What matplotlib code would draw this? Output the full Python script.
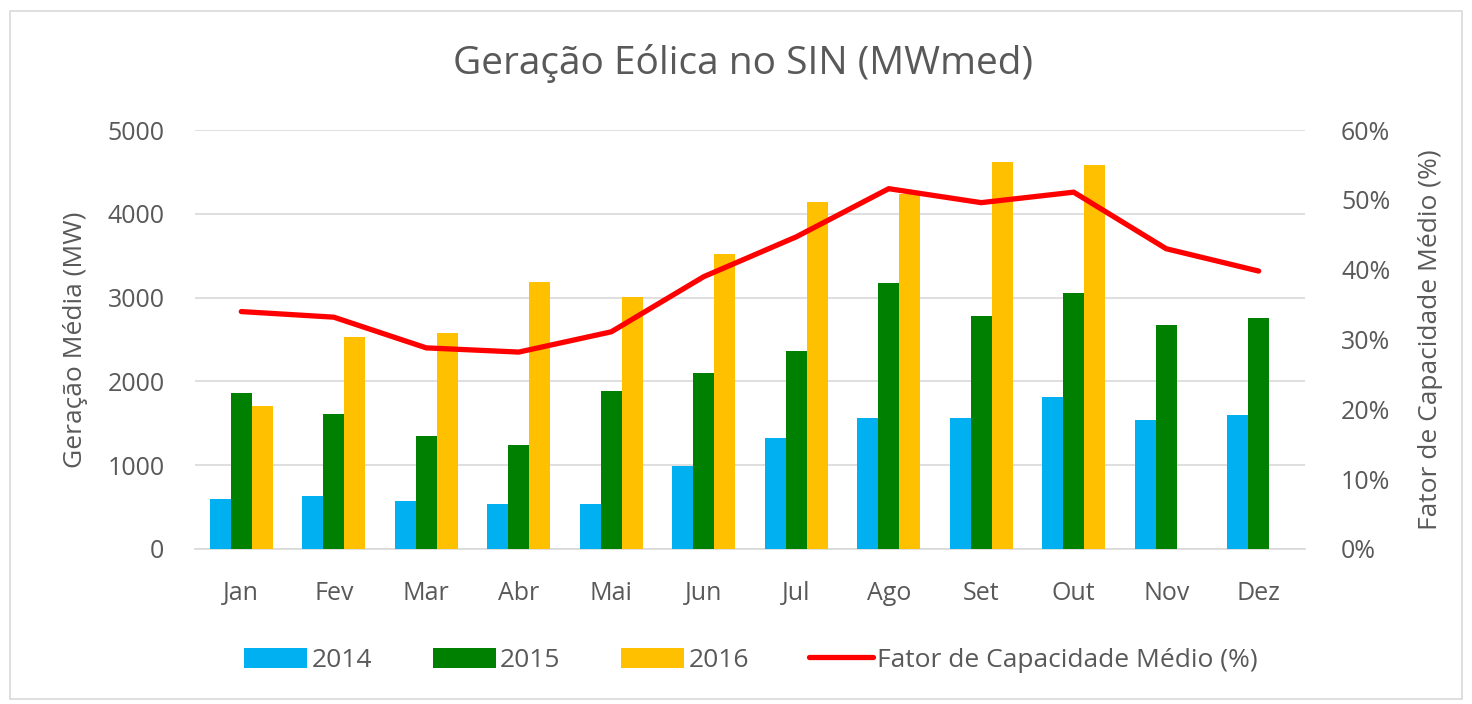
import matplotlib
matplotlib.use("Agg")
import matplotlib.pyplot as plt
import numpy as np
from matplotlib.ticker import FuncFormatter
from matplotlib.patches import Rectangle

months = ["Jan", "Fev", "Mar", "Abr", "Mai", "Jun", "Jul", "Ago", "Set", "Out", "Nov", "Dez"]
g2014 = [600, 630, 570, 540, 540, 990, 1330, 1560, 1560, 1810, 1540, 1600]
g2015 = [1860, 1610, 1350, 1240, 1890, 2100, 2360, 3180, 2780, 3050, 2670, 2760]
g2016 = [1710, 2530, 2580, 3190, 3010, 3520, 4140, 4240, 4620, 4580, np.nan, np.nan]
fator = [34.0, 33.2, 28.8, 28.2, 31.1, 39.0, 44.7, 51.6, 49.6, 51.1, 43.0, 39.8]

plt.rcParams['font.family'] = ['Open Sans', 'DejaVu Sans']
txt = "#595959"

fig = plt.figure(figsize=(14.72, 7.04), dpi=100)
fig.patches.append(Rectangle((0.007, 0.007), 0.986, 0.978, transform=fig.transFigure,
                             fill=False, edgecolor="#d9d9d9", linewidth=1.2))
ax = fig.add_axes([0.1325, 0.2202, 0.754, 0.5951])
ax2 = ax.twinx()

x = np.arange(len(months))
w = 0.227
ax.bar(x - w, g2014, w, color="#00b0f0", label="2014", zorder=3)
ax.bar(x, g2015, w, color="#008000", label="2015", zorder=3)
ax.bar(x + w, g2016, w, color="#ffc000", label="2016", zorder=3)
ax2.plot(x, fator, color="#ff0000", linewidth=3.8, solid_capstyle="round",
         label="Fator de Capacidade Médio (%)", zorder=4)

ax.set_xlim(-0.5, 11.5)
ax.set_ylim(0, 5000)
ax.set_yticks(range(0, 5001, 1000))
ax2.set_ylim(0, 60)
ax2.set_yticks(range(0, 61, 10))
ax2.yaxis.set_major_formatter(FuncFormatter(lambda v, p: f"{int(v)}%"))

ax.grid(axis="y", color="#d9d9d9", linewidth=1.2, zorder=0)
ax.set_axisbelow(True)
for a in (ax, ax2):
    for s in a.spines.values():
        s.set_visible(False)
    a.tick_params(length=0, labelsize=18, colors=txt)
ax.spines["bottom"].set_visible(True)
ax.spines["bottom"].set_color("#d9d9d9")
ax.spines["bottom"].set_linewidth(1.2)

ax.set_xticks(x)
ax.set_xticklabels(months)
ax.tick_params(axis="x", pad=23)
ax.tick_params(axis="y", pad=22)
ax2.tick_params(axis="y", pad=26)

ax.set_ylabel("Geração Média (MW)", fontsize=19, color=txt, labelpad=14)
ax2.set_ylabel("Fator de Capacidade Médio (%)", fontsize=19, color=txt, labelpad=20)

fig.text(0.505, 0.91, "Geração Eólica no SIN (MWmed)", ha="center", va="center",
         fontsize=28, color=txt)

h1, l1 = ax.get_legend_handles_labels()
h2, l2 = ax2.get_legend_handles_labels()
fig.legend(h1 + h2, l1 + l2, loc="center", bbox_to_anchor=(0.51, 0.062), ncol=4,
           frameon=False, fontsize=19, labelcolor=txt, handlelength=2.4,
           handleheight=0.8, columnspacing=2.3, handletextpad=0.15)

fig.savefig("out.png", dpi=100)
